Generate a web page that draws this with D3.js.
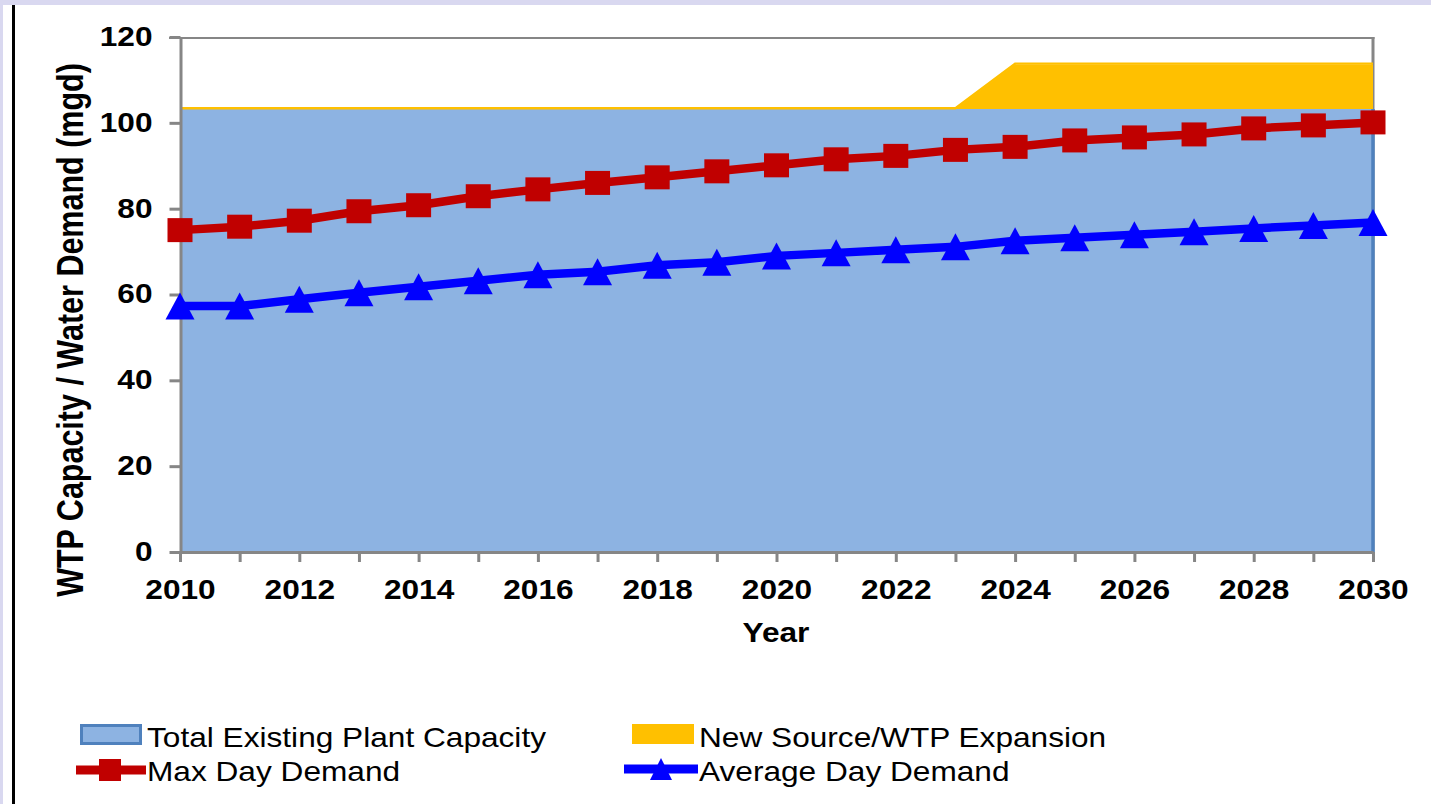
<!DOCTYPE html>
<html lang="en">
<head>
<meta charset="utf-8">
<title>WTP Capacity / Water Demand</title>
<script src="https://d3js.org/d3.v7.min.js"></script>
<style>
  body { margin: 0; background: #fff; }
  svg text { font-family: "Liberation Sans", Arial, sans-serif; fill: #000; }
</style>
</head>
<body>
<script>
// categories
var years = [2010, 2011, 2012, 2013, 2014, 2015, 2016, 2017, 2018, 2019, 2020,
             2021, 2022, 2023, 2024, 2025, 2026, 2027, 2028, 2029, 2030];
// stacked areas (mgd)
var existingCapacity = [103.2, 103.2, 103.2, 103.2, 103.2, 103.2, 103.2, 103.2, 103.2, 103.2, 103.2,
                        103.2, 103.2, 103.2, 103.2, 103.2, 103.2, 103.2, 103.2, 103.2, 103.2];
var expansion = [0, 0, 0, 0, 0, 0, 0, 0, 0, 0, 0,
                 0, 0, 0, 10.4, 10.4, 10.4, 10.4, 10.4, 10.4, 10.4];
// demand lines (mgd)
var maxDay = [75.0, 75.8, 77.2, 79.4, 80.8, 82.9, 84.5, 86.0, 87.3, 88.7, 90.1,
              91.5, 92.3, 93.7, 94.4, 95.9, 96.6, 97.3, 98.7, 99.4, 100.1];
var avgDay = [57.3, 57.3, 58.9, 60.4, 61.8, 63.2, 64.6, 65.3, 66.8, 67.5, 69.0,
              69.7, 70.4, 71.1, 72.5, 73.2, 73.9, 74.6, 75.4, 76.1, 76.8];
var yTicks = [0, 20, 40, 60, 80, 100, 120];
var legendLabels = ["Total Existing Plant Capacity", "New Source/WTP Expansion",
                    "Max Day Demand", "Average Day Demand"];

var W = 1431, H = 804;
var stretch = 1.13;   // text in the picture is a bit wider than normal
var gray = "#868686";
var blueFill = "#8DB3E2", blueEdge = "#4F81BD", gold = "#FFC000";
var red = "#C00000", blue = "#0000FF";

var svg = d3.select("body").append("svg")
    .attr("width", W).attr("height", H);

// slide background bits
svg.append("rect").attr("x", 0).attr("y", 0).attr("width", W).attr("height", 5).attr("fill", "#d9d8f0");
svg.append("rect").attr("x", 0).attr("y", 0).attr("width", 3).attr("height", H).attr("fill", "#d9d8f0");
svg.append("rect").attr("x", 12).attr("y", 5).attr("width", 3).attr("height", H - 5).attr("fill", "#000");

var x = d3.scaleLinear().domain([2010, 2030]).range([180, 1373]);
var y = d3.scaleLinear().domain([0, 120]).range([552, 37]);

var rows = years.map(function(yr, i) {
  return { year: yr, base: existingCapacity[i], total: existingCapacity[i] + expansion[i],
           max: maxDay[i], avg: avgDay[i] };
});

// plot border top + right
svg.append("line").attr("x1", 169).attr("x2", x(2030) + 1.5)
  .attr("y1", y(120) + 1).attr("y2", y(120) + 1)
  .attr("stroke", gray).attr("stroke-width", 2);
svg.append("line").attr("x1", x(2030)).attr("x2", x(2030))
  .attr("y1", y(120)).attr("y2", y(0))
  .attr("stroke", gray).attr("stroke-width", 3);

// areas
var areaBase = d3.area()
    .x(function(d) { return x(d.year); })
    .y0(y(0))
    .y1(function(d) { return y(d.base); });
var areaTop = d3.area()
    .x(function(d) { return x(d.year); })
    .y0(function(d) { return y(d.base); })
    .y1(function(d) { return y(d.total); });

svg.append("path").datum(rows).attr("d", areaBase).attr("fill", blueFill);
svg.append("path").datum(rows).attr("d", areaTop).attr("fill", gold);
svg.append("path").datum(rows)
  .attr("d", d3.line().x(function(d) { return x(d.year); }).y(function(d) { return y(d.total) - 0.8; }))
  .attr("fill", "none").attr("stroke", gold).attr("stroke-width", 2.4);
// darker edge on the right side of the capacity area
svg.append("line").attr("x1", x(2030)).attr("x2", x(2030))
  .attr("y1", y(rows[rows.length - 1].base)).attr("y2", y(0))
  .attr("stroke", blueEdge).attr("stroke-width", 3.5);

// axes
var xAxis = d3.axisBottom(x)
    .tickValues(years)
    .tickFormat(function(d) { return d % 2 === 0 ? d : ""; })
    .tickSize(10).tickSizeOuter(0).tickPadding(17);
var gx = svg.append("g").attr("transform", "translate(0," + y(0) + ")").call(xAxis);
gx.select(".domain").attr("stroke", gray).attr("stroke-width", 3);
gx.selectAll(".tick line").attr("stroke", gray).attr("stroke-width", 3);
gx.selectAll(".tick text")
  .attr("font-size", 28).attr("font-weight", "bold")
  .attr("font-family", "Liberation Sans, Arial, sans-serif")
  .attr("fill", "#000")
  .attr("transform", "scale(" + stretch + ",1)");

var yAxis = d3.axisLeft(y).tickValues(yTicks).tickSize(11).tickSizeOuter(0);
var gy = svg.append("g").attr("transform", "translate(180.5,0)").call(yAxis);
gy.select(".domain").attr("stroke", gray).attr("stroke-width", 3);
gy.selectAll(".tick line").attr("stroke", gray).attr("stroke-width", 3);
gy.selectAll(".tick text")
  .attr("font-size", 28).attr("font-weight", "bold")
  .attr("font-family", "Liberation Sans, Arial, sans-serif")
  .attr("fill", "#000")
  .attr("x", -28 / stretch).attr("dy", "0.3em")
  .attr("transform", "scale(" + stretch + ",1)");

// demand lines
var lineMax = d3.line().x(function(d) { return x(d.year); }).y(function(d) { return y(d.max); });
var lineAvg = d3.line().x(function(d) { return x(d.year); }).y(function(d) { return y(d.avg); });

svg.append("path").datum(rows).attr("d", lineMax)
  .attr("fill", "none").attr("stroke", red).attr("stroke-width", 8.5);
svg.selectAll(".sq").data(rows).enter().append("rect")
  .attr("class", "sq")
  .attr("x", function(d) { return x(d.year) - 12.5; })
  .attr("y", function(d) { return y(d.max) - 12; })
  .attr("width", 25).attr("height", 24)
  .attr("fill", red);

svg.append("path").datum(rows).attr("d", lineAvg)
  .attr("fill", "none").attr("stroke", blue).attr("stroke-width", 8.5);
function tri(w, h) {
  return "M0," + (-h / 2) + "L" + (w / 2) + "," + (h / 2) + "L" + (-w / 2) + "," + (h / 2) + "Z";
}
svg.selectAll(".tri").data(rows).enter().append("path")
  .attr("class", "tri")
  .attr("d", tri(29, 27))
  .attr("transform", function(d) { return "translate(" + x(d.year) + "," + y(d.avg) + ")"; })
  .attr("fill", blue);

// axis titles
svg.append("text")
  .attr("transform", "translate(776,642) scale(" + stretch + ",1)")
  .attr("text-anchor", "middle")
  .attr("font-size", 28).attr("font-weight", "bold")
  .text("Year");
svg.append("text")
  .attr("transform", "translate(83,330) rotate(-90) scale(1,1.2)")
  .attr("text-anchor", "middle")
  .attr("font-size", 30.5).attr("font-weight", "bold")
  .text("WTP Capacity / Water Demand (mgd)");

// legend
var leg = svg.append("g");
leg.append("rect").attr("x", 81.5).attr("y", 725.5).attr("width", 59).attr("height", 18)
  .attr("fill", blueFill).attr("stroke", blueEdge).attr("stroke-width", 3);
leg.append("rect").attr("x", 632).attr("y", 724).attr("width", 62).attr("height", 20)
  .attr("fill", gold);
leg.append("line").attr("x1", 76).attr("x2", 146).attr("y1", 770).attr("y2", 770)
  .attr("stroke", red).attr("stroke-width", 9);
leg.append("rect").attr("x", 99).attr("y", 759).attr("width", 22).attr("height", 22).attr("fill", red);
leg.append("line").attr("x1", 624).attr("x2", 698).attr("y1", 769).attr("y2", 769)
  .attr("stroke", blue).attr("stroke-width", 9);
leg.append("path").attr("d", tri(22, 22))
  .attr("transform", "translate(661,769)").attr("fill", blue);

var legPos = [[147, 747], [699, 747], [147, 781], [699, 781]];
legendLabels.forEach(function(t, i) {
  leg.append("text")
    .attr("transform", "translate(" + legPos[i][0] + "," + legPos[i][1] + ") scale(" + stretch + ",1)")
    .attr("font-size", 28)
    .text(t);
});
</script>
</body>
</html>
